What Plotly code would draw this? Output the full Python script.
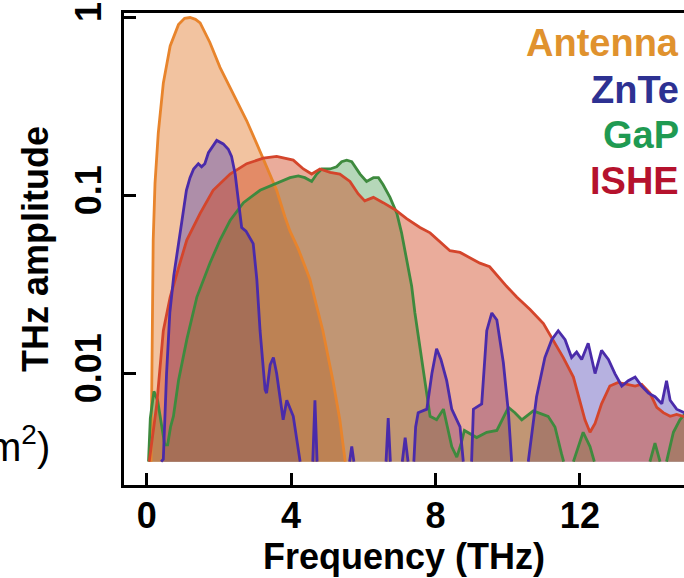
import plotly.graph_objects as go

# ---------------- data ----------------
FLOOR = 0.0032  # lowest visible amplitude (bottom of the filled areas)

freq_ticks = [0, 4, 8, 12]
amp_ticks = [0.01, 0.1, 1]
amp_tick_text = ["0.01", "0.1", "1"]

antenna_x = [0.12, 0.15, 0.18, 0.23, 0.32, 0.46, 0.65, 0.88, 1.05, 1.2, 1.35, 1.48,
             1.75, 2.03, 2.31, 2.48, 2.77, 3.05, 3.32, 3.6, 3.83, 3.97, 4.2, 4.52,
             4.88, 5.16, 5.35, 5.5]
antenna_y = [0.0032, 0.0158, 0.0562, 0.117, 0.224, 0.427, 0.692, 0.912, 0.99, 1.0,
             0.977, 0.933, 0.724, 0.525, 0.407, 0.347, 0.263, 0.195, 0.145, 0.107,
             0.0759, 0.0631, 0.0501, 0.0339, 0.0174, 0.0091, 0.0055, 0.0032]

znte_x = [0.40, 0.46, 0.55, 0.64, 0.75, 0.85, 0.97, 1.1, 1.2, 1.3, 1.43, 1.52, 1.61,
          1.71, 1.8, 1.94, 2.12, 2.26, 2.35, 2.45, 2.54, 2.63, 2.75, 2.95, 3.05, 3.14,
          3.28, 3.32, 3.42, 3.51, 3.6, 3.78, 3.88, 3.97, 4.06, 4.25, 4.35,
          4.6, 4.66, 4.72, 4.8, 5.62, 5.68, 5.74, 5.8, 6.63, 6.69, 6.75, 6.9,
          7.08, 7.16, 7.24, 7.3, 7.4, 7.45, 7.52, 7.76, 7.9, 8.03, 8.15, 8.31, 8.45,
          8.68, 8.77, 8.9, 9.0, 9.05, 9.28, 9.42, 9.56, 9.7, 9.88, 10.02, 10.11, 10.3,
          10.57, 10.8, 11.03, 11.22, 11.4, 11.59, 11.77, 11.91, 12.05, 12.23, 12.42,
          12.6, 12.79, 12.97, 13.16, 13.34, 13.53, 13.71, 13.9, 14.08, 14.27, 14.4,
          14.5, 14.68, 14.9, 15.2]
znte_y = [0.0032, 0.0033, 0.0100, 0.0219, 0.0355, 0.0501, 0.0708, 0.107, 0.126, 0.141,
          0.151, 0.145, 0.151, 0.174, 0.186, 0.204, 0.195, 0.182, 0.166, 0.132, 0.0933,
          0.0661, 0.0631, 0.0537, 0.0339, 0.0174, 0.00813, 0.00776, 0.0112, 0.0123,
          0.0100, 0.0055, 0.00708, 0.0063, 0.00575, 0.0032, None,
          0.0032, 0.00708, 0.0032, None, 0.0032, 0.00389, 0.0032, None,
          0.0032, 0.00562, 0.0032, None, 0.0032, 0.00437, 0.0032, None,
          0.0032, 0.00501, 0.00603, 0.00631, 0.0100, 0.0138, 0.0120, 0.00912, 0.00631,
          0.00501, 0.0032, None, 0.0032, 0.00631, 0.00676, 0.0174, 0.0219, 0.0200,
          0.0115, 0.00603, 0.0032, None, 0.0032, 0.00741, 0.0123, 0.0155, 0.0174,
          0.0155, 0.0123, 0.0132, 0.0120, 0.0148, 0.0100, 0.0135, 0.0120, 0.0100,
          0.00851, 0.00912, 0.00955, 0.00851, 0.00776, 0.00741, 0.00676, 0.00912,
          0.00708, 0.00631, 0.00603, 0.00562]

gap_x = [0.05, 0.1, 0.2, 0.3, 0.42, 0.5, 0.58, 0.66, 0.74, 0.88, 1.11, 1.39, 1.75,
         2.03, 2.31, 2.68, 3.14, 3.6, 3.97, 4.2, 4.38, 4.57, 4.71, 4.85, 5.08, 5.26,
         5.4, 5.54, 5.68, 5.91, 6.09, 6.28, 6.42, 6.55, 6.74, 6.93, 7.06, 7.2, 7.34,
         7.43, 7.57, 7.71, 7.85, 8.03, 8.22, 8.33, 8.45, 8.59, 8.7, 8.8, 9.14, 9.42,
         9.7, 10.02, 10.2, 10.39, 10.71, 11.12, 11.31, 11.49, 11.55, 11.65, 11.82,
         12.09, 12.28, 12.4, 12.5, 13.85, 13.94, 14.08, 14.22, 14.3, 14.4, 14.59,
         14.77, 14.9, 15.2]
gap_y = [0.0032, 0.00562, 0.00794, 0.00708, 0.00501, 0.00398, 0.00398, 0.00501,
         0.00575, 0.00912, 0.0155, 0.0269, 0.0417, 0.0562, 0.0724, 0.0912, 0.107,
         0.117, 0.126, 0.129, 0.126, 0.120, 0.132, 0.141, 0.141, 0.145, 0.155, 0.158,
         0.155, 0.132, 0.120, 0.126, 0.126, 0.115, 0.0977, 0.0794, 0.0617, 0.0437,
         0.0309, 0.0219, 0.0141, 0.00912, 0.00575, 0.0055, 0.00631, 0.00501, 0.00389,
         0.00339, 0.00398, 0.00479, 0.00437, 0.00468, 0.00479, 0.00646, 0.00603,
         0.0055, 0.00617, 0.00575, 0.00501, 0.00355, 0.0032, None, 0.0032, 0.00468,
         0.00389, 0.0032, None, None, 0.0032, 0.00407, 0.0032, None, 0.0032, 0.00468,
         0.0055, 0.00589, 0.00631]

ishe_x = [0.07, 0.28, 0.46, 0.65, 0.92, 1.11, 1.48, 1.84, 2.31, 2.77, 3.23, 3.6,
          4.06, 4.34, 4.57, 4.8, 5.08, 5.35, 5.63, 5.86, 6.04, 6.28, 6.55, 6.88, 7.2,
          7.57, 7.85, 8.22, 8.4, 8.68, 8.96, 9.23, 9.5, 9.79, 9.97, 10.25, 10.62,
          10.99, 11.26, 11.54, 11.82, 12.0, 12.14, 12.28, 12.42, 12.6, 12.83, 13.06,
          13.29, 13.53, 13.71, 13.94, 14.13, 14.31, 14.5, 14.68, 14.86, 15.2]
ishe_y = [0.0032, 0.00676, 0.0174, 0.0269, 0.0417, 0.0562, 0.0794, 0.107, 0.132,
          0.151, 0.162, 0.166, 0.158, 0.141, 0.132, 0.141, 0.135, 0.132, 0.120, 0.102,
          0.0933, 0.0977, 0.0912, 0.0832, 0.0741, 0.0661, 0.0617, 0.0525, 0.049,
          0.0479, 0.0447, 0.0417, 0.0398, 0.0339, 0.0309, 0.0269, 0.0229, 0.0191,
          0.0155, 0.0123, 0.00955, 0.00708, 0.0055, 0.00468, 0.00525, 0.00676,
          0.00851, 0.00891, 0.00871, 0.00851, 0.00871, 0.00776, 0.00646, 0.00603,
          0.00575, 0.00589, 0.00575, 0.00562]

# ---------------- styles ----------------
series = {
    "Antenna": dict(x=antenna_x, y=antenna_y, line="#E8842C", fill="rgba(230,135,65,0.50)", text="#E0922E"),
    "ZnTe": dict(x=znte_x, y=znte_y, line="#4A2BAA", fill="rgba(80,70,180,0.42)", text="#2D3192"),
    "GaP": dict(x=gap_x, y=gap_y, line="#3E8A3E", fill="rgba(60,150,70,0.38)", text="#1F9A52"),
    "ISHE": dict(x=ishe_x, y=ishe_y, line="#D4452B", fill="rgba(208,71,33,0.45)", text="#B5122D"),
}
fill_order = ["Antenna", "ZnTe", "GaP", "ISHE"]
line_order = ["Antenna", "GaP", "ISHE", "ZnTe"]

fig = go.Figure()
for name in fill_order:
    s = series[name]
    fy = [FLOOR if v is None else max(v, FLOOR) for v in s["y"]]
    fig.add_trace(go.Scatter(
        x=list(s["x"]) + [s["x"][-1], s["x"][0]],
        y=fy + [FLOOR, FLOOR],
        mode="lines", fill="toself", fillcolor=s["fill"],
        line=dict(width=0), hoverinfo="skip", showlegend=False))
for name in line_order:
    s = series[name]
    fig.add_trace(go.Scatter(
        x=s["x"], y=s["y"], mode="lines", connectgaps=False,
        line=dict(color=s["line"], width=2.8), name=name, showlegend=False))

FONT = "Liberation Sans, Arial, Helvetica, sans-serif"
bold = dict(family=FONT, size=36, color="black", weight="bold")

fig.update_layout(
    width=684, height=578,
    margin=dict(l=124, r=0, t=13, b=93),
    paper_bgcolor="white", plot_bgcolor="white",
    font=dict(family=FONT, color="black"),
    xaxis=dict(
        range=[-0.629, 14.884], tickvals=freq_ticks, ticktext=[str(v) for v in freq_ticks],
        ticks="inside", ticklen=12, tickwidth=3, tickcolor="black",
        showline=True, linewidth=3, linecolor="black", mirror=True,
        showgrid=False, zeroline=False, tickfont=bold, ticklabelstandoff=-3,
        title=dict(text="Frequency (THz)", font=bold, standoff=6),
    ),
    yaxis=dict(
        type="log", range=[-2.626, 0.0253], tickvals=amp_ticks, ticktext=amp_tick_text,
        tickangle=-90, ticks="inside", ticklen=12, tickwidth=3, tickcolor="black",
        showline=True, linewidth=3, linecolor="black", mirror=False,
        showgrid=False, zeroline=False, tickfont=bold, ticklabelstandoff=6,
        title=dict(text="THz amplitude", font=bold, standoff=8),
    ),
)

legend_y = {"Antenna": 0.9364, "ZnTe": 0.8369, "GaP": 0.7415, "ISHE": 0.644}
for name, yy in legend_y.items():
    fig.add_annotation(
        x=1, y=yy, xref="paper", yref="paper", xanchor="right", yanchor="middle",
        xshift=-3, yshift=0, showarrow=False, text="<b>" + name + "</b>",
        font=dict(family=FONT, size=38, color=series[name]["text"]))

# partial label of a neighbouring panel, cut at the left border
fig.add_annotation(
    x=-0.129, y=0.078, xref="paper", yref="paper", xanchor="right", yanchor="middle",
    yshift=4, showarrow=False, text="cm<sup>2</sup>)",
    font=dict(family=FONT, size=40, color="black"))

fig.write_html("out.html", config={"displayModeBar": False},
               post_script="document.body.style.margin='0';document.body.style.overflow='hidden';")
